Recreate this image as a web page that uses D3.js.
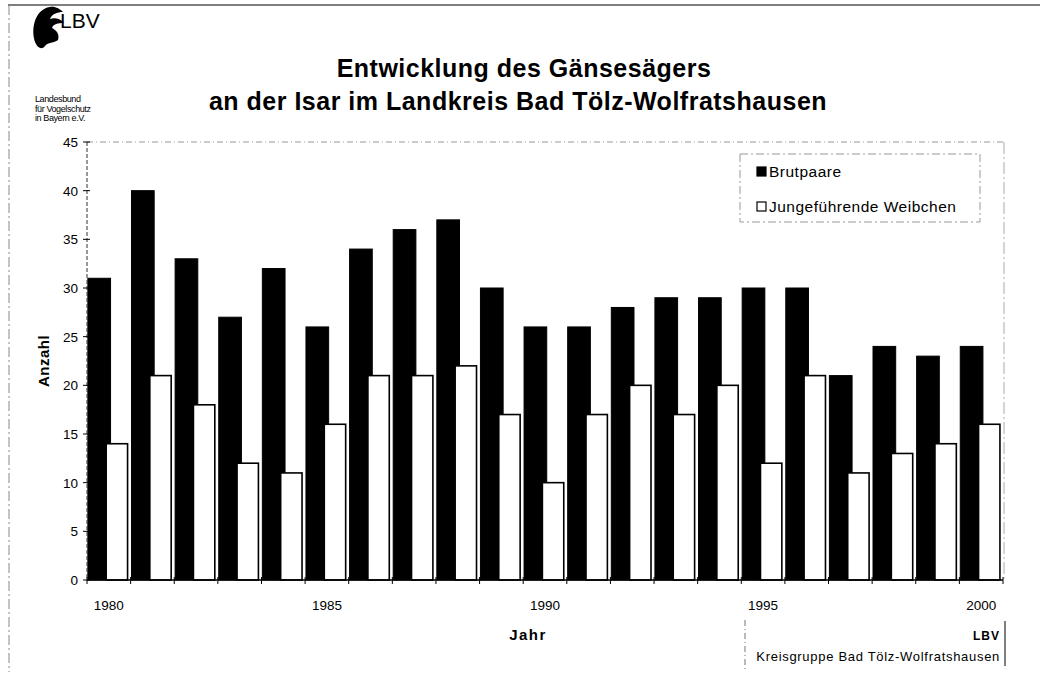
<!DOCTYPE html>
<html>
<head>
<meta charset="utf-8">
<script src="https://cdn.jsdelivr.net/npm/d3@7"></script>
<style>
  body { margin: 0; background: #fff; }
  svg { display: block; font-family: "Liberation Sans", Arial, sans-serif; }
</style>
</head>
<body>
<div id="chart"></div>
<script>
// data
const years = d3.range(1980, 2001);
const yearLabels = [1980, 1985, 1990, 1995, 2000];
const brutpaare = [31, 40, 33, 27, 32, 26, 34, 36, 37, 30, 26, 26, 28, 29, 29, 30, 30, 21, 24, 23, 24];
const weibchen = [14, 21, 18, 12, 11, 16, 21, 21, 22, 17, 10, 17, 20, 17, 20, 12, 21, 11, 13, 14, 16];
const yTicks = d3.range(0, 46, 5);
const seriesNames = ["Brutpaare", "Jungeführende Weibchen"];

const W = 1056, H = 694;
const m = { left: 87, right: 1003, top: 142, bottom: 580 };

const svg = d3.select("#chart").append("svg")
  .attr("width", W).attr("height", H);

// outer frame (scanned page edges)
svg.append("line").attr("x1", 8).attr("x2", 1040).attr("y1", 5).attr("y2", 5)
  .attr("stroke", "#555").attr("stroke-width", 1.5);
svg.append("line").attr("x1", 9).attr("x2", 9).attr("y1", 5).attr("y2", 672)
  .attr("stroke", "#888").attr("stroke-dasharray", "10,3,2,3");

// logo
const logo = svg.append("g");
logo.append("path")
  .attr("d", "M36,44 C30,32 34,9 50,7 C55,6 60,9 63,12 C57,12 52,14 50,19 C55,17 61,19 64,23 C58,23 53,24 52,28 C56,30 60,34 58,40 C54,43 48,42 45,46 C42,50 38,48 36,44 Z")
  .attr("fill", "#000");
logo.append("text").attr("x", 60).attr("y", 28)
  .attr("font-size", 21).text("LBV");
const logoLines = ["Landesbund", "für Vogelschutz", "in Bayern e.V."];
logo.selectAll("text.small").data(logoLines).join("text")
  .attr("class", "small")
  .attr("x", 35).attr("y", (d, i) => 102 + i * 9.5)
  .attr("font-size", 9).attr("letter-spacing", -0.4)
  .text(d => d);

// title
svg.append("text").attr("x", 524).attr("y", 77)
  .attr("text-anchor", "middle").attr("font-size", 25).attr("font-weight", "bold")
  .attr("letter-spacing", 0.5)
  .text("Entwicklung des Gänsesägers");
svg.append("text").attr("x", 518).attr("y", 110)
  .attr("text-anchor", "middle").attr("font-size", 25).attr("font-weight", "bold")
  .attr("letter-spacing", 0.5)
  .text("an der Isar im Landkreis Bad Tölz-Wolfratshausen");

// scales
const x = d3.scaleBand().domain(years).range([m.left, m.right]).padding(0);
const y = d3.scaleLinear().domain([0, 45]).range([m.bottom, m.top]);
const bw = x.bandwidth();

// plot area borders (top and right, faint dashed)
svg.append("line").attr("x1", m.left).attr("x2", m.right + 2).attr("y1", m.top).attr("y2", m.top)
  .attr("stroke", "#999").attr("stroke-dasharray", "6,3,1,3");
svg.append("line").attr("x1", m.right + 1).attr("x2", m.right + 1).attr("y1", m.top).attr("y2", m.bottom)
  .attr("stroke", "#aaa").attr("stroke-dasharray", "12,3,2,3");

// bars
svg.append("g").selectAll("rect").data(years).join("rect")
  .attr("x", d => x(d) + bw * 0.02)
  .attr("width", bw * 0.52)
  .attr("y", (d, i) => y(brutpaare[i]))
  .attr("height", (d, i) => y(0) - y(brutpaare[i]))
  .attr("fill", "#000").attr("stroke", "#000").attr("stroke-width", 1);

svg.append("g").selectAll("rect").data(years).join("rect")
  .attr("x", d => x(d) + bw * 0.44)
  .attr("width", bw * 0.49)
  .attr("y", (d, i) => y(weibchen[i]))
  .attr("height", (d, i) => y(0) - y(weibchen[i]))
  .attr("fill", "#fff").attr("stroke", "#000").attr("stroke-width", 1.6);

// y axis
const yAxis = svg.append("g");
yAxis.append("line").attr("x1", m.left).attr("x2", m.left).attr("y1", m.top).attr("y2", m.bottom)
  .attr("stroke", "#333").attr("stroke-dasharray", "4,2");
yAxis.selectAll("line.tick").data(yTicks).join("line").attr("class", "tick")
  .attr("x1", m.left - 4).attr("x2", m.left + 3)
  .attr("y1", d => y(d)).attr("y2", d => y(d))
  .attr("stroke", "#000");
yAxis.selectAll("text").data(yTicks).join("text")
  .attr("x", 78).attr("y", d => y(d) + 5)
  .attr("text-anchor", "end").attr("font-size", 13.5)
  .text(d => d);

// x axis
const xAxis = svg.append("g");
xAxis.append("line").attr("x1", m.left).attr("x2", m.right).attr("y1", m.bottom).attr("y2", m.bottom)
  .attr("stroke", "#000").attr("stroke-width", 1.5);
xAxis.selectAll("line.tick").data(years.concat([2001])).join("line").attr("class", "tick")
  .attr("x1", d => d === 2001 ? m.right : x(d)).attr("x2", d => d === 2001 ? m.right : x(d))
  .attr("y1", m.bottom - 3).attr("y2", m.bottom + 4)
  .attr("stroke", "#000");
xAxis.selectAll("text").data(yearLabels).join("text")
  .attr("x", d => x(d) + bw / 2).attr("y", 610)
  .attr("text-anchor", "middle").attr("font-size", 13.5)
  .text(d => d);

// axis titles
svg.append("text").attr("x", 528).attr("y", 640)
  .attr("text-anchor", "middle").attr("font-size", 15).attr("font-weight", "bold")
  .attr("letter-spacing", 1.5).text("Jahr");
svg.append("text").attr("transform", "translate(49,361) rotate(-90)")
  .attr("text-anchor", "middle").attr("font-size", 15).attr("font-weight", "bold")
  .attr("letter-spacing", 0.5).text("Anzahl");

// legend
const lg = svg.append("g");
lg.append("rect").attr("x", 740).attr("y", 154).attr("width", 240).attr("height", 68)
  .attr("fill", "#fff").attr("stroke", "#999").attr("stroke-dasharray", "8,3,2,3");
const legFill = ["#000", "#fff"];
lg.selectAll("rect.sw").data(seriesNames).join("rect").attr("class", "sw")
  .attr("x", 757).attr("y", (d, i) => 167 + i * 35)
  .attr("width", 9).attr("height", 9)
  .attr("fill", (d, i) => legFill[i]).attr("stroke", "#000").attr("stroke-width", 1.2);
lg.selectAll("text").data(seriesNames).join("text")
  .attr("x", 769).attr("y", (d, i) => 177 + i * 35)
  .attr("font-size", 15.5).attr("letter-spacing", 0.5).text(d => d);

// source box bottom right
const src = svg.append("g");
src.append("line").attr("x1", 745).attr("x2", 745).attr("y1", 620).attr("y2", 672)
  .attr("stroke", "#777").attr("stroke-dasharray", "6,3,1,3");
src.append("line").attr("x1", 1005).attr("x2", 1005).attr("y1", 621).attr("y2", 666)
  .attr("stroke", "#000");
src.append("text").attr("x", 1000).attr("y", 640).attr("text-anchor", "end")
  .attr("font-size", 12).attr("font-weight", "bold").attr("letter-spacing", 1).text("LBV");
src.append("text").attr("x", 1000).attr("y", 661).attr("text-anchor", "end")
  .attr("font-size", 13).attr("letter-spacing", 0.7).text("Kreisgruppe Bad Tölz-Wolfratshausen");
</script>
</body>
</html>
